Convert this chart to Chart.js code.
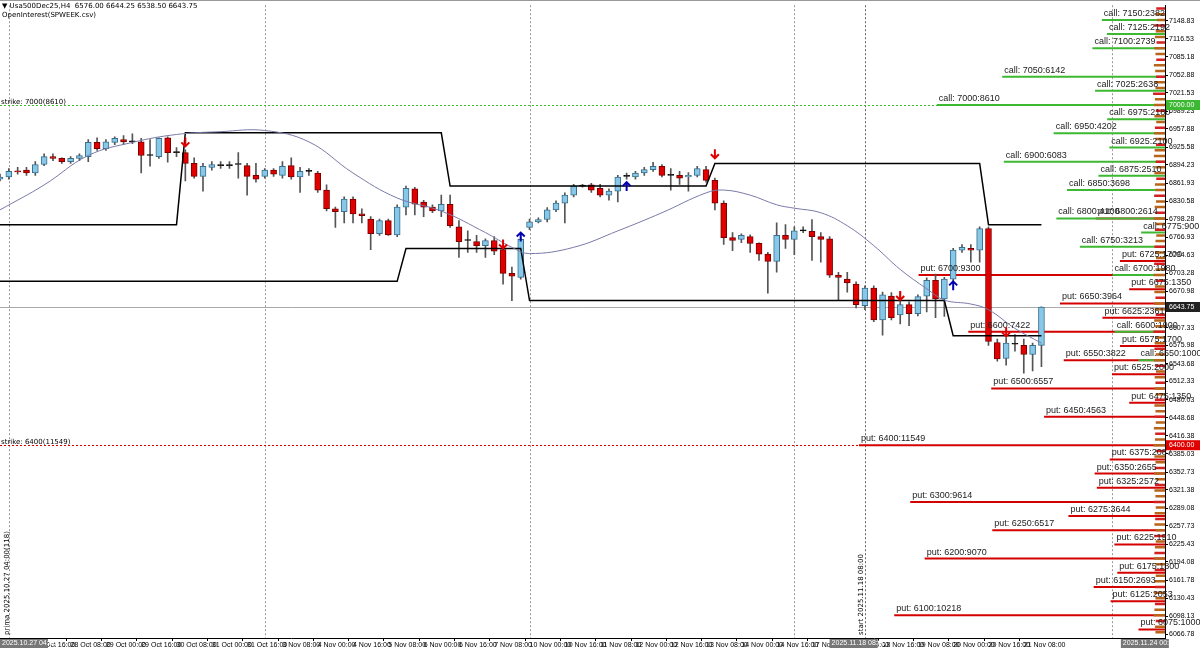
<!DOCTYPE html>
<html><head><meta charset="utf-8">
<script src="https://cdn.jsdelivr.net/npm/chart.js@4.4.1/dist/chart.umd.min.js"></script>
<style>html,body{margin:0;padding:0;background:#fff}canvas{display:block}</style>
</head><body>
<canvas id="c" width="1200" height="648"></canvas>
<script>
const openP=[6869,6873,6883,6885,6880,6895,6909,6906,6900,6906,
6909,6934,6923,6934,6939,6935,6935,6911,6909,6942,
6916,6916,6897,6874,6890,6893,6893,6895,6893,6876,
6874,6885,6876,6893,6873,6883,6880,6850,6817,6812,
6834,6808,6799,6773,6796,6771,6820,6852,6829,6820,
6813,6825,6785,6761,6759,6752,6761,6745,6703,6696,
6784,6794,6798,6815,6827,6841,6857,6859,6853,6841,
6848,6874,6873,6880,6886,6892,6876,6876,6873,6876,
6886,6867,6827,6766,6763,6768,6756,6737,6724,6770,
6763,6778,6777,6768,6764,6700,6693,6684,6646,6677,
6621,6663,6630,6648,6632,6663,6691,6658,6693,6744,
6747,6744,6782,6581,6553,6578,6576,6560,6576];
const closeP=[6873,6883,6882,6880,6895,6909,6906,6900,6906,6911,
6934,6923,6935,6941,6935,6935,6911,6911,6941,6916,
6916,6897,6874,6892,6895,6893,6893,6895,6874,6869,
6885,6878,6892,6873,6883,6883,6850,6817,6812,6834,
6808,6805,6773,6796,6771,6820,6853,6825,6820,6813,
6825,6787,6759,6761,6752,6761,6742,6703,6698,6763,
6794,6798,6815,6827,6841,6857,6857,6850,6841,6848,
6873,6874,6880,6886,6892,6876,6876,6871,6876,6888,
6867,6827,6766,6761,6770,6756,6737,6724,6770,6763,
6778,6778,6768,6763,6700,6696,6686,6648,6677,6621,
6665,6625,6648,6632,6662,6691,6658,6693,6744,6749,
6744,6782,6583,6552,6580,6578,6560,6576,6643.75];
const highP=[6878,6888,6890,6890,6900,6914,6914,6907,6909,6914,
6939,6942,6939,6944,6946,6949,6941,6939,6942,6944,
6925,6921,6907,6897,6900,6900,6900,6916,6897,6897,
6888,6888,6900,6907,6890,6888,6883,6859,6820,6838,
6838,6817,6803,6799,6799,6824,6857,6855,6832,6824,
6841,6841,6796,6778,6770,6764,6768,6749,6714,6766,
6799,6801,6819,6831,6845,6860,6860,6862,6860,6852,
6876,6880,6883,6890,6899,6895,6888,6883,6881,6892,
6892,6871,6831,6775,6773,6771,6757,6740,6792,6789,
6785,6785,6798,6775,6768,6705,6705,6688,6681,6681,
6670,6669,6670,6653,6665,6695,6702,6696,6747,6754,
6754,6785,6785,6587,6590,6595,6587,6580,6644.25];
const lowP=[6866,6869,6878,6876,6876,6893,6902,6897,6897,6902,
6900,6920,6920,6930,6930,6932,6880,6892,6906,6899,
6909,6866,6871,6848,6885,6888,6888,6871,6841,6864,
6871,6874,6871,6869,6846,6876,6846,6813,6784,6792,
6792,6792,6745,6770,6770,6768,6806,6806,6803,6810,
6803,6784,6731,6740,6740,6731,6736,6684,6655,6693,
6780,6792,6794,6812,6792,6838,6855,6846,6838,6832,
6829,6869,6869,6876,6883,6873,6850,6860,6848,6873,
6864,6815,6754,6743,6757,6740,6726,6668,6705,6747,
6736,6775,6726,6723,6696,6656,6670,6642,6639,6618,
6594,6621,6614,6611,6628,6635,6625,6627,6688,6740,
6723,6723,6576,6548,6541,6566,6527,6531,6538.5];
// moving average samples [candle index, value]
const maIdx=[0,5,10,15,20,25,30,35,40,45,50,55,58,60,65,70,75,80,82,85,88,90,93,96,99,102,105,107,110,112,115,118];
const maVal=[6815,6859,6911,6934,6948,6953,6955,6935,6880,6836,6813,6775,6749,6738,6749,6778,6810,6845,6850,6841,6824,6818,6810,6787,6752,6710,6676,6656,6649,6639,6606,6580];
// step bands: breakpoints [index, value]
const upIdx=[0,20,21,50,51,80,81,111,112,118];
const upVal=[6789,6789,6951,6951,6857,6857,6897,6897,6789,6789];
const loIdx=[0,45,46,59,60,107,108,118];
const loVal=[6689,6689,6747,6747,6655,6655,6593,6593];
// open interest (labelled)
const callStrikes=[7150,7125,7100,7050,7025,7000,6975,6950,6925,6900,6875,6850,6800,6775,6750,6700,6600,6550];
const callOI=[2382,2192,2739,6142,2638,8610,2180,4202,2100,6083,2510,3698,4100,900,3213,1980,1900,1000];
const putStrikes=[6800,6725,6700,6675,6650,6625,6600,6575,6550,6525,6500,6475,6450,6400,6375,6350,6325,6300,6275,6250,6225,6200,6175,6150,6125,6100,6075];
const putOI=[2614,1700,9300,1350,3964,2361,7422,1700,3822,2000,6557,1350,4563,11549,2087,2655,2572,9614,3644,6517,1910,9070,1800,2693,2053,10218,1000];
// small OI column (every 10 points)
const minorStrikes=[7170,7160,7150,7140,7130,7120,7110,7100,7090,7080,7070,7060,7050,7040,7030,7020,7010,7000,6990,6980,6970,6960,6950,6940,6930,6920,6910,6900,6890,6880,6870,6860,6850,6840,6830,6820,6810,6800,6790,6780,6770,6760,6750,6740,6730,6720,6710,6700,6690,6680,6670,6660,6650,6640,6630,6620,6610,6600,6590,6580,6570,6560,6550,6540,6530,6520,6510,6500,6490,6480,6470,6460,6450,6440,6430,6420,6410,6400,6390,6380,6370,6360,6350,6340,6330,6320,6310,6300,6290,6280,6270,6260,6250,6240,6230,6220,6210,6200,6190,6180,6170,6160,6150,6140,6130,6120,6110,6100,6090,6080,6070];
const minorOI=[330,360,300,410,350,380,320,400,360,330,420,370,340,390,360,450,380,420,350,400,330,380,410,360,340,390,420,350,370,400,330,380,360,410,340,390,370,420,350,380,330,360,400,370,340,410,360,430,350,380,400,360,420,390,350,410,370,440,360,390,400,350,420,370,340,390,360,410,350,380,400,360,390,350,420,370,380,440,350,400,360,390,410,350,380,400,360,420,350,390,370,400,360,410,350,380,400,420,360,390,350,400,370,410,360,380,400,430,350,380,360];
const timeLabels=["27 Oct 16:00","28 Oct 08:00","29 Oct 00:00","29 Oct 16:00","30 Oct 08:00","31 Oct 00:00","31 Oct 16:00","3 Nov 08:00","4 Nov 00:00","4 Nov 16:00","5 Nov 08:00","6 Nov 00:00","6 Nov 16:00","7 Nov 08:00","10 Nov 00:00","10 Nov 16:00","11 Nov 08:00","12 Nov 00:00","12 Nov 16:00","13 Nov 08:00","14 Nov 00:00","14 Nov 16:00","17 Nov 08:00","18 Nov 00:00","18 Nov 16:00","19 Nov 08:00","20 Nov 00:00","20 Nov 16:00","21 Nov 08:00"];
const priceTicks=[7148.83,7116.53,7085.18,7052.88,7021.53,6989.23,6957.88,6925.58,6894.23,6861.93,6830.58,6798.28,6766.93,6734.63,6703.28,6670.98,6607.33,6575.98,6543.68,6512.33,6480.03,6448.68,6416.38,6385.03,6352.73,6321.38,6289.08,6257.73,6225.43,6194.08,6161.78,6130.43,6098.13,6066.78];
const downArrows=[[21,6927],[57,6747],[81,6906],[102,6656],[114,6592]];
const upArrows=[[59,6775],[71,6864],[108,6689]];
const gridIdx=[1,30,60,90,126];
const nCats=133;

const labels=[];for(let i=0;i<nCats;i++)labels.push(String(i));
const sparse=(idx,val)=>{const a=new Array(nCats).fill(null);idx.forEach((k,j)=>a[k]=val[j]);return a;};
const bodies=openP.map((o,i)=>[o,closeP[i]]);
const wicks=lowP.map((l,i)=>[l,highP[i]]);
const bodyCol=openP.map((o,i)=>closeP[i]>o?'#87c7e8':(closeP[i]<o?'#e00000':'#000'));
const bodyBorder=openP.map((o,i)=>closeP[i]>o?'#3a6f8c':(closeP[i]<o?'#7a0000':'#000'));
function segData(strikes,vals){const d=[];strikes.forEach((s,i)=>{d.push({x:0,y:s},{x:vals[i],y:s},{x:vals[i],y:null});});return d;}
const minorA=[],minorB=[];
minorStrikes.forEach((s,i)=>{(i%3===0?minorB:minorA).push(s);});
const minorAv=minorOI.filter((v,i)=>i%3!==0);
const minorBv=minorOI.filter((v,i)=>i%3===0);

const font='"DejaVu Sans", sans-serif';
const narrow='"Liberation Sans Narrow", "Liberation Sans", sans-serif';
const overlay={id:'overlay',
beforeDatasetsDraw(ch){const c=ch.ctx,x=ch.scales.x,y=ch.scales.y,a=ch.chartArea;c.save();
 c.strokeStyle='#999';c.setLineDash([2,2]);c.lineWidth=1;
 gridIdx.forEach(g=>{const px=Math.round(x.getPixelForValue(g))+0.5;c.beginPath();c.moveTo(px,a.top);c.lineTo(px,a.bottom);c.stroke();});
 const sx=Math.round(x.getPixelForValue(98))+0.5;c.strokeStyle='#666';c.beginPath();c.moveTo(sx,a.top);c.lineTo(sx,a.bottom);c.stroke();
 [[7000,'#3cb832','strike: 7000(8610)'],[6400,'#d40000','strike: 6400(11549)']].forEach(([p,col,t])=>{const py=Math.round(y.getPixelForValue(p))+0.5;c.strokeStyle=col;c.beginPath();c.moveTo(a.left,py);c.lineTo(a.right,py);c.stroke();c.fillStyle='#000';c.font='7px '+font;c.textAlign='left';c.fillText(t,1,py-2);});
 c.setLineDash([]);
 const cp=Math.round(y.getPixelForValue(closeP[closeP.length-1]))+0.5;c.strokeStyle='#aaa';c.beginPath();c.moveTo(a.left,cp);c.lineTo(a.right,cp);c.stroke();
 c.restore();},
afterDatasetsDraw(ch){const c=ch.ctx,x=ch.scales.x,y=ch.scales.y,xo=ch.scales.xOI,a=ch.chartArea;c.save();
 c.font='9px "Liberation Sans", sans-serif';c.textAlign='left';c.textBaseline='bottom';c.fillStyle='#222';
 callStrikes.forEach((s,i)=>{c.fillText('call: '+s+':'+callOI[i],xo.getPixelForValue(callOI[i])+2,y.getPixelForValue(s)-2);});
 putStrikes.forEach((s,i)=>{c.fillText('put: '+s+':'+putOI[i],xo.getPixelForValue(putOI[i])+2,y.getPixelForValue(s)-2);});
 const arrow=(i,p,dir,col)=>{const px=x.getPixelForValue(i),py=y.getPixelForValue(p);c.strokeStyle=col;c.lineWidth=2;c.beginPath();c.moveTo(px,py-dir*9);c.lineTo(px,py);c.moveTo(px-4,py-dir*4);c.lineTo(px,py);c.lineTo(px+4,py-dir*4);c.stroke();};
 downArrows.forEach(([i,p])=>arrow(i,p,1,'#e00000'));
 upArrows.forEach(([i,p])=>arrow(i,p,-1,'#0000b0'));
 c.textBaseline='top';c.font='7px '+font;c.fillStyle='#000';
 c.fillText('▼ Usa500Dec25,H4  '+openP[118].toFixed(2)+' '+highP[118].toFixed(2)+' '+lowP[118].toFixed(2)+' '+closeP[118].toFixed(2),2,3);
 c.fillText('OpenInterest(SPWEEK.csv)',2,12);
 const vtext=(t,px,py)=>{c.save();c.translate(px,py);c.rotate(-Math.PI/2);c.textBaseline='middle';c.textAlign='left';c.fillText(t,0,0);c.restore();};
 vtext('prima 2025.10.27 04:00(118)',x.getPixelForValue(1)-2,a.bottom-3);
 vtext('start 2025.11.18 08:00',x.getPixelForValue(98)-4,a.bottom-3);
 c.textBaseline='middle';c.font='7px '+narrow;
 [[7000,'#3cb832','7000.00','#fff'],[closeP[118],'#222','6643.75','#fff'],[6400,'#e00000','6400.00','#fff']].forEach(([p,bg,t,fg])=>{const py=y.getPixelForValue(p);c.fillStyle=bg;c.fillRect(a.right+1,py-5,34,10);c.fillStyle=fg;c.fillText(t,a.right+4,py);});
 const tbox=(i,t)=>{const px=x.getPixelForValue(i);c.fillStyle='#777';c.fillRect(px,a.bottom+1,48,9);c.fillStyle='#fff';c.fillText(t,px+2,a.bottom+5.5);};
 tbox(0,'2025.10.27 04:00');tbox(94,'2025.11.18 08:00');tbox(127,'2025.11.24 00:00');
 c.strokeStyle='#999';c.lineWidth=1;c.beginPath();c.moveTo(0,0.5);c.lineTo(1200,0.5);c.stroke();
 c.restore();}};

const oiLine=(data,col,w)=>({type:'line',xAxisID:'xOI',yAxisID:'y',data,borderColor:col,borderWidth:w,pointRadius:0,spanGaps:false,parsing:true,order:5});
new Chart(document.getElementById('c'),{
 data:{labels,datasets:[
  {type:'bar',data:wicks,backgroundColor:'#555',barThickness:1,grouped:false,order:3},
  {type:'bar',data:bodies,backgroundColor:bodyCol,borderColor:bodyBorder,borderWidth:1,borderSkipped:false,barThickness:6,minBarLength:1,grouped:false,order:2},
  {type:'line',data:sparse(maIdx,maVal),borderColor:'#7a7aa8',borderWidth:1,pointRadius:0,spanGaps:true,tension:0.4,order:1},
  {type:'line',data:sparse(upIdx,upVal),borderColor:'#000',borderWidth:1.5,pointRadius:0,spanGaps:true,tension:0,order:1},
  {type:'line',data:sparse(loIdx,loVal),borderColor:'#000',borderWidth:1.5,pointRadius:0,spanGaps:true,tension:0,order:1},
  oiLine(segData(minorA,minorAv),'#b8641a',2.5),
  oiLine(segData(minorB,minorBv),'#d42020',2.5),
  oiLine(segData(callStrikes,callOI),'#3cb832',2),
  oiLine(segData(putStrikes,putOI),'#d40000',2)
 ]},
 options:{responsive:false,animation:false,layout:{padding:0},
  plugins:{legend:{display:false},tooltip:{enabled:false}},
  scales:{
   x:{type:'category',offset:false,grid:{drawOnChartArea:false,tickLength:3,color:c=>(c.index%4===0&&c.index>=4&&c.index<=116)?'#000':'transparent'},border:{color:'#000'},
      ticks:{autoSkip:false,maxRotation:0,align:'start',padding:0,font:{size:7,family:narrow},color:'#000',callback:(v,i)=>(i%4===0&&i>=4&&i<=116)?timeLabels[i/4-1]:''},
      afterFit:s=>{s.height=10;}},
   xOI:{type:'linear',reverse:true,min:0,max:43960,display:false},
   y:{position:'right',min:6060,max:7176,grid:{display:true,drawOnChartArea:false,tickLength:3,color:'#000'},border:{color:'#000'},
      afterBuildTicks:s=>{s.ticks=priceTicks.map(v=>({value:v}));},
      ticks:{font:{size:7,family:narrow},color:'#000',padding:1,callback:v=>Number(v).toFixed(2)},
      afterFit:s=>{s.width=35;}}
  }},
 plugins:[overlay]});
</script></body></html>
